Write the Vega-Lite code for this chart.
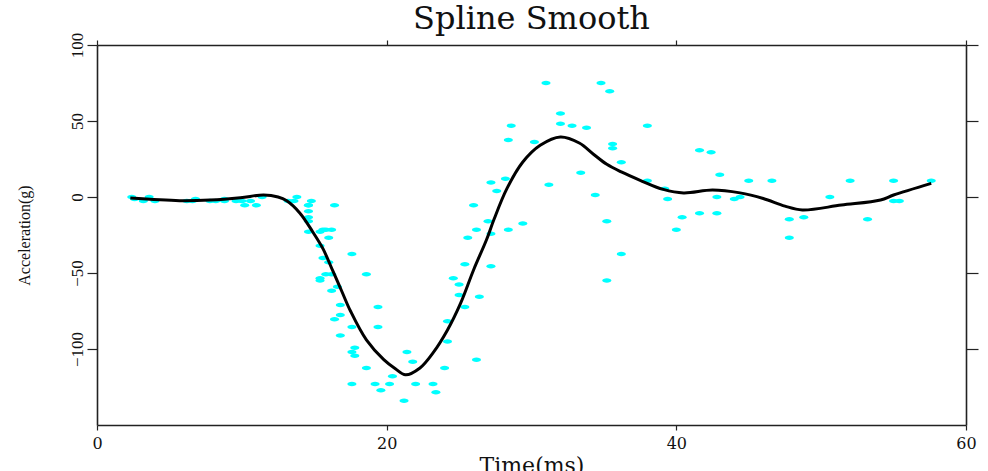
{
  "$schema": "https://vega.github.io/schema/vega-lite/v6.json",
  "width": 869,
  "height": 380,
  "autosize": {"type": "none"},
  "padding": {"left": 97, "top": 45, "right": 22, "bottom": 46},
  "background": "white",
  "config": {
    "view": {"stroke": null},
    "axis": {"grid": false, "domainColor": "#222", "tickColor": "#222", "domainWidth": 1.6, "tickWidth": 1.2, "labelColor": "#111", "titleColor": "#111", "titleFontWeight": "normal"}
  },
  "title": {"text": "Spline Smooth", "font": "DejaVu Serif", "fontSize": 32, "fontWeight": "normal", "color": "#111", "anchor": "middle", "offset": -4},
  "datasets": {
    "pts": [
      {"t":2.4,"a":0.0},{"t":2.6,"a":-1.3},{"t":3.2,"a":-2.7},{"t":3.6,"a":0.0},{"t":4.0,"a":-2.7},{"t":6.2,"a":-2.7},{"t":6.6,"a":-2.7},{"t":6.8,"a":-1.3},{"t":7.8,"a":-2.7},{"t":8.2,"a":-2.7},
      {"t":8.8,"a":-1.3},{"t":8.8,"a":-2.7},{"t":9.6,"a":-2.7},{"t":10.0,"a":-2.7},{"t":10.2,"a":-5.4},{"t":10.6,"a":-2.7},{"t":11.0,"a":-5.4},{"t":11.4,"a":0.0},{"t":13.2,"a":-2.7},{"t":13.6,"a":-2.7},
      {"t":13.8,"a":0.0},{"t":14.6,"a":-13.3},{"t":14.6,"a":-5.4},{"t":14.6,"a":-5.4},{"t":14.6,"a":-9.3},{"t":14.6,"a":-16.0},{"t":14.6,"a":-22.8},{"t":14.8,"a":-2.7},{"t":15.4,"a":-22.8},{"t":15.4,"a":-32.1},
      {"t":15.4,"a":-53.5},{"t":15.4,"a":-54.9},{"t":15.6,"a":-40.2},{"t":15.6,"a":-21.5},{"t":15.8,"a":-21.5},{"t":15.8,"a":-50.8},{"t":16.0,"a":-42.9},{"t":16.0,"a":-26.8},{"t":16.2,"a":-21.5},{"t":16.2,"a":-50.8},
      {"t":16.2,"a":-61.7},{"t":16.4,"a":-5.4},{"t":16.4,"a":-80.4},{"t":16.6,"a":-59.0},{"t":16.8,"a":-71.0},{"t":16.8,"a":-91.1},{"t":16.8,"a":-77.7},{"t":17.6,"a":-37.5},{"t":17.6,"a":-85.6},{"t":17.6,"a":-123.1},
      {"t":17.6,"a":-101.9},{"t":17.8,"a":-99.1},{"t":17.8,"a":-104.4},{"t":18.6,"a":-112.5},{"t":18.6,"a":-50.8},{"t":19.2,"a":-123.1},{"t":19.4,"a":-85.6},{"t":19.4,"a":-72.3},{"t":19.6,"a":-127.2},{"t":20.2,"a":-123.1},
      {"t":20.4,"a":-117.9},{"t":21.2,"a":-134.0},{"t":21.4,"a":-101.9},{"t":21.8,"a":-108.4},{"t":22.0,"a":-123.1},{"t":23.2,"a":-123.1},{"t":23.4,"a":-128.5},{"t":24.0,"a":-112.5},{"t":24.2,"a":-95.1},{"t":24.2,"a":-81.8},
      {"t":24.6,"a":-53.5},{"t":25.0,"a":-64.4},{"t":25.0,"a":-57.6},{"t":25.4,"a":-72.3},{"t":25.4,"a":-44.3},{"t":25.6,"a":-26.8},{"t":26.0,"a":-5.4},{"t":26.2,"a":-107.1},{"t":26.2,"a":-21.5},{"t":26.4,"a":-65.6},
      {"t":27.0,"a":-16.0},{"t":27.2,"a":-45.6},{"t":27.2,"a":-24.2},{"t":27.2,"a":9.5},{"t":27.6,"a":4.0},{"t":28.2,"a":12.0},{"t":28.4,"a":-21.5},{"t":28.4,"a":37.5},{"t":28.6,"a":46.9},{"t":29.4,"a":-17.4},
      {"t":30.2,"a":36.2},{"t":31.0,"a":75.0},{"t":31.2,"a":8.1},{"t":32.0,"a":54.9},{"t":32.0,"a":48.2},{"t":32.8,"a":46.9},{"t":33.4,"a":16.0},{"t":33.8,"a":45.6},{"t":34.4,"a":1.3},{"t":34.8,"a":75.0},
      {"t":35.2,"a":-16.0},{"t":35.2,"a":-54.9},{"t":35.4,"a":69.6},{"t":35.6,"a":34.8},{"t":35.6,"a":32.1},{"t":36.2,"a":-37.5},{"t":36.2,"a":22.8},{"t":38.0,"a":46.9},{"t":38.0,"a":10.7},{"t":39.2,"a":5.4},
      {"t":39.4,"a":-1.3},{"t":40.0,"a":-21.5},{"t":40.4,"a":-13.3},{"t":41.6,"a":30.8},{"t":41.6,"a":-10.7},{"t":42.4,"a":29.4},{"t":42.8,"a":0.0},{"t":42.8,"a":-10.7},{"t":43.0,"a":14.7},{"t":44.0,"a":-1.3},
      {"t":44.4,"a":0.0},{"t":45.0,"a":10.7},{"t":46.6,"a":10.7},{"t":47.8,"a":-26.8},{"t":47.8,"a":-14.7},{"t":48.8,"a":-13.3},{"t":50.6,"a":0.0},{"t":52.0,"a":10.7},{"t":53.2,"a":-14.7},{"t":55.0,"a":-2.7},
      {"t":55.0,"a":10.7},{"t":55.4,"a":-2.7},{"t":57.6,"a":10.7}
    ],
    "spline": [
      {"t":2.3,"a":-0.7},{"t":5.7,"a":-2.4},{"t":7.8,"a":-2.0},{"t":9.9,"a":-0.5},{"t":11.5,"a":1.3},{"t":12.5,"a":0.0},{"t":13.1,"a":-2.5},{"t":14.0,"a":-10.5},{"t":14.9,"a":-23},{"t":15.6,"a":-34},{"t":16.3,"a":-49},{"t":16.9,"a":-62},{"t":17.5,"a":-75},{"t":18.6,"a":-94},{"t":19.8,"a":-107},{"t":20.6,"a":-113},{"t":21.3,"a":-117},{"t":22.3,"a":-112.5},{"t":23.2,"a":-102.6},{"t":24.2,"a":-87.5},{"t":25.1,"a":-70},{"t":26.0,"a":-48},{"t":26.9,"a":-28},{"t":27.4,"a":-15},{"t":28.3,"a":5.5},{"t":29.4,"a":23},{"t":30.6,"a":34},{"t":32.0,"a":39.5},{"t":33.3,"a":35.5},{"t":34.3,"a":28},{"t":35.2,"a":21.5},{"t":36.2,"a":16.5},{"t":37.5,"a":11},{"t":39.1,"a":5},{"t":40.5,"a":2.7},{"t":42.5,"a":4.6},{"t":44.4,"a":2.7},{"t":46.0,"a":-1.0},{"t":47.5,"a":-6},{"t":48.7,"a":-8.5},{"t":51.4,"a":-5.3},{"t":54.1,"a":-2},{"t":55.0,"a":1.3},{"t":57.6,"a":9}
    ]
  },
  "layer": [
    {
      "data": {"name": "pts"},
      "mark": {"type": "point", "filled": true, "shape": "M-1,0A1,0.5,0,1,1,1,0A1,0.5,0,1,1,-1,0Z", "size": 81, "color": "#00FFFF", "opacity": 1, "strokeWidth": 0},
      "encoding": {
        "x": {"field": "t", "type": "quantitative", "scale": {"domain": [0, 60], "nice": false, "zero": false},
          "axis": {"orient": "bottom", "values": [0, 20, 40, 60], "tickSize": 5, "labelFont": "DejaVu Serif", "labelFontSize": 16, "labelPadding": 5, "labelFlush": false, "title": "Time(ms)", "titleFont": "DejaVu Serif", "titleFontSize": 22, "titlePadding": 4}},
        "y": {"field": "a", "type": "quantitative", "scale": {"domain": [-150, 100], "nice": false, "zero": false},
          "axis": {"orient": "left", "values": [-100, -50, 0, 50, 100], "tickSize": 10, "labelAngle": -90, "labelFont": "Liberation Serif", "labelFontSize": 17, "labelPadding": 1, "labelFlush": false, "title": "Acceleration(g)", "titleFont": "Liberation Serif", "titleFontSize": 16, "titlePadding": 36}}
      }
    },
    {
      "data": {"name": "spline"},
      "mark": {"type": "line", "color": "#000", "strokeWidth": 3, "interpolate": "catmull-rom"},
      "encoding": {
        "x": {"field": "t", "type": "quantitative", "axis": {"orient": "top", "values": [0, 20, 40, 60], "tickSize": 5, "labels": false, "title": null}},
        "y": {"field": "a", "type": "quantitative", "axis": {"orient": "right", "values": [-100, -50, 0, 50, 100], "tickSize": 12, "labels": false, "title": null}}
      }
    }
  ],
  "resolve": {"axis": {"x": "independent", "y": "independent"}}
}
